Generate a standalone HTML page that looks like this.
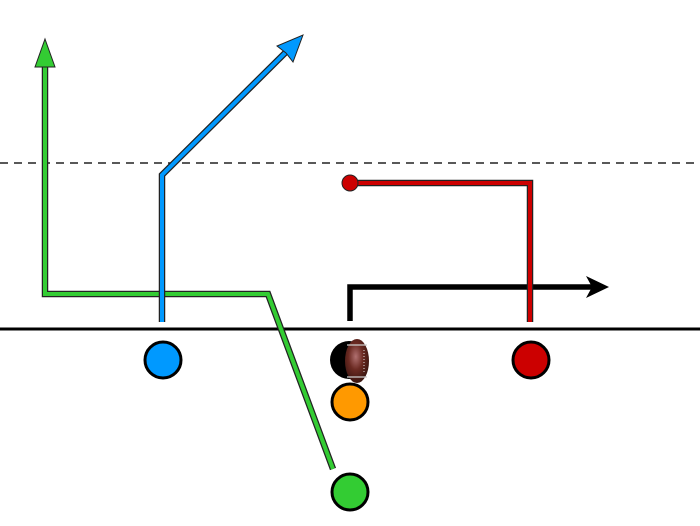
<!DOCTYPE html>
<html><head><style>html,body{margin:0;padding:0;background:#fff;width:700px;height:526px;overflow:hidden}</style></head>
<body>
<svg width="700" height="526" viewBox="0 0 700 526" xmlns="http://www.w3.org/2000/svg">
<defs>
<radialGradient id="fb" cx="0.45" cy="0.4" r="0.6">
<stop offset="0" stop-color="#b07070"/><stop offset="0.5" stop-color="#6b2a22"/><stop offset="1" stop-color="#3a1510"/>
</radialGradient>
</defs>
<line x1="0" y1="163" x2="700" y2="163" stroke="#222" stroke-width="1.6" stroke-dasharray="8,6"/>
<line x1="0" y1="329" x2="700" y2="329" stroke="#000" stroke-width="3"/>
<!-- green route -->
<polyline points="333,469 268,294 45,294 45,62" fill="none" stroke="#222" stroke-width="6.5"/>
<polyline points="333,469 268,294 45,294 45,62" fill="none" stroke="#33cc33" stroke-width="4"/>
<polygon points="45,39 55,67 35,67" fill="#33cc33" stroke="#222" stroke-width="1"/>
<!-- black route -->
<polyline points="350,321 350,287 592,287" fill="none" stroke="#000" stroke-width="5.5"/>
<polygon points="609,287 586,276 592,287 586,298" fill="#000"/>
<!-- blue route -->
<polyline points="162,322 162,175 287,51" fill="none" stroke="#222" stroke-width="6.5"/>
<polyline points="162,322 162,175 287,51" fill="none" stroke="#0099ff" stroke-width="4"/>
<polygon points="303,35 293,62 286,53 277,46" fill="#0099ff" stroke="#222" stroke-width="1"/>
<!-- red route -->
<polyline points="530,322 530,183 350,183" fill="none" stroke="#222" stroke-width="6.5"/>
<polyline points="530,322 530,183 350,183" fill="none" stroke="#cc0000" stroke-width="4"/>
<circle cx="350" cy="183" r="8" fill="#cc0000" stroke="#222" stroke-width="1"/>
<!-- players -->
<circle cx="163" cy="360" r="18" fill="#0099ff" stroke="#000" stroke-width="3"/>
<circle cx="531" cy="360" r="18" fill="#cc0000" stroke="#000" stroke-width="3"/>
<circle cx="350" cy="402" r="18" fill="#ff9900" stroke="#000" stroke-width="3"/>
<circle cx="350" cy="492" r="18" fill="#33cc33" stroke="#000" stroke-width="3"/>
<circle cx="349" cy="360" r="19" fill="#000"/>
<ellipse cx="357" cy="361" rx="12" ry="22" fill="url(#fb)"/>
<line x1="364" y1="350" x2="364" y2="372" stroke="#ddd" stroke-width="1" stroke-dasharray="1,2"/>
<line x1="347" y1="345" x2="367" y2="345" stroke="#ccc" stroke-width="1.2"/>
<line x1="347" y1="377" x2="367" y2="377" stroke="#ccc" stroke-width="1.2"/>
</svg>
</body></html>
